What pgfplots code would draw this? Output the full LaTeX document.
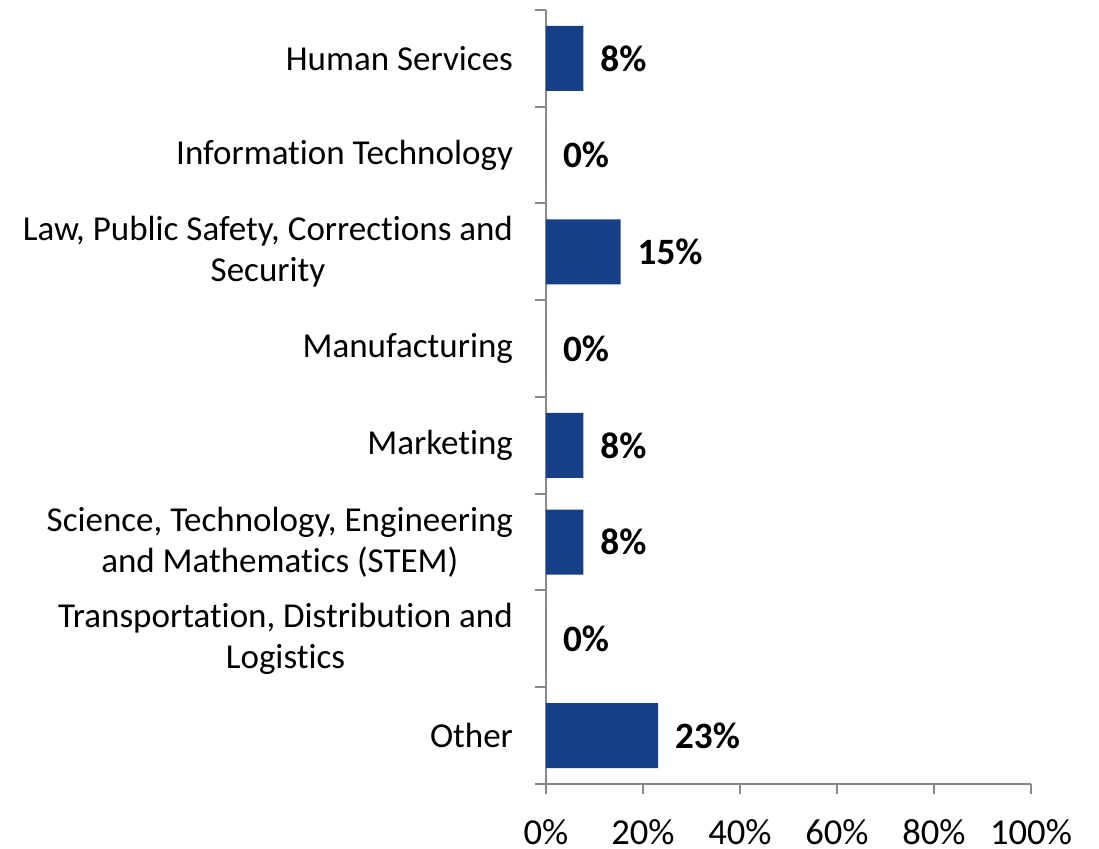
\documentclass[border=0pt]{standalone}
\usepackage{pgfplots}
\pgfplotsset{compat=1.18}
\usepackage{fontspec}
\setmainfont{Carlito}[Ligatures=CommonOff]
\definecolor{barblue}{RGB}{21,64,135}
\definecolor{axgray}{RGB}{137,137,137}
\begin{document}
\begin{tikzpicture}[font=\fontsize{17.5}{20.5}\selectfont]
\useasboundingbox (-273pt,-32.5pt) rectangle (276.5pt,392pt);
\begin{axis}[
    at={(0,0)}, anchor=south west,
    scale only axis,
    width=242.5pt, height=387pt,
    xbar, bar width=32.5pt,
    xmin=0, xmax=100, ymin=-0.5, ymax=7.5,
    axis lines*=left,
    axis line style={axgray, line width=1pt},
    tick style={axgray, line width=1pt},
    tick align=outside,
    major tick length=5pt,
    minor tick length=5.5pt,
    xtick={0,20,...,100},
    xticklabel={\pgfmathprintnumber{\tick}\%},
    xticklabel style={inner sep=0pt, yshift=-12.8pt, font=\fontsize{18.3}{20.5}\selectfont},
    ytick={0,...,7},
    major y tick style={draw=none},
    minor ytick={-0.5,0.5,...,7.5},
    yticklabels={Other,
        {Transportation, Distribution and\\Logistics},
        {Science, Technology, Engineering\\and Mathematics (STEM)},
        Marketing, Manufacturing,
        {Law, Public Safety, Corrections and\\Security},
        Information Technology, Human Services},
    yticklabel style={align=center, anchor=east, xshift=-8pt, font=\fontsize{17.5}{20.5}\selectfont},
    tick label style={text=black},
    /pgf/number format/assume math mode=true,
    nodes near coords={\pgfmathprintnumber[fixed,precision=0]{\pgfplotspointmeta}\%},
    every node near coord/.append style={font=\fontsize{18.6}{20.5}\selectfont\bfseries, black, anchor=west, xshift=5pt},
]
\addplot[fill=barblue, draw=none] coordinates {
    (7.7,7) (0,6) (15.4,5) (0,4) (7.7,3) (7.7,2) (0,1) (23.1,0)
};
\end{axis}
\end{tikzpicture}
\end{document}
